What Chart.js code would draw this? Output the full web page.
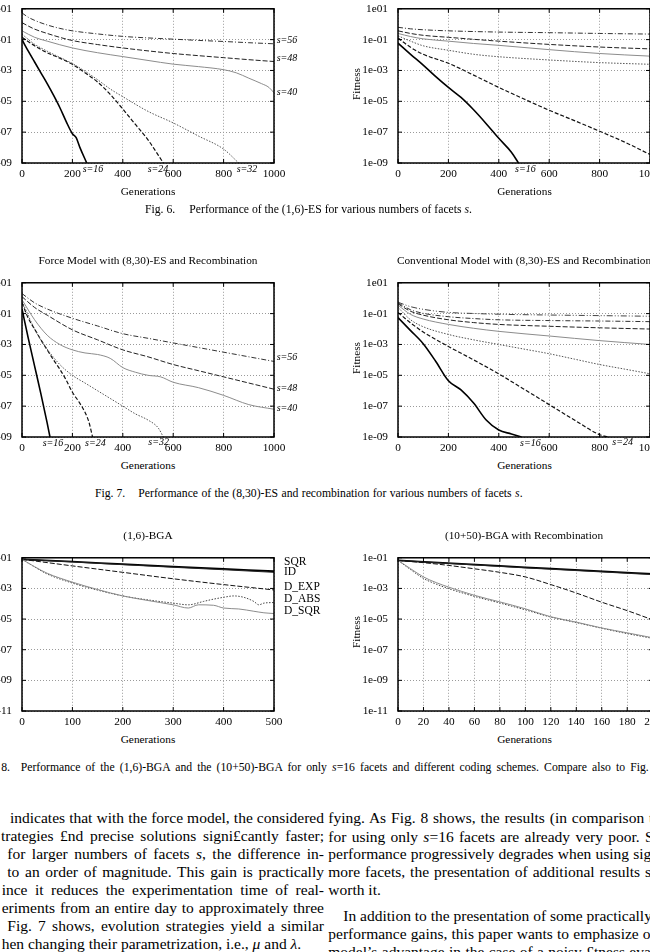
<!DOCTYPE html>
<html>
<head>
<meta charset="utf-8">
<script src="https://cdn.jsdelivr.net/npm/chart.js@4.4.0/dist/chart.umd.min.js"></script>
<style>
  html, body { margin: 0; padding: 0; background: #fff; }
  #page {
    position: relative; width: 650px; height: 952px; overflow: hidden;
    font-family: 'Liberation Serif', 'Times New Roman', serif; color: #000;
  }
  #page canvas { position: absolute; display: block; }
  .c  { position: absolute; white-space: nowrap; font-size: 11.3px; line-height: 1; transform: translate(-50%, -50%); }
  .l  { position: absolute; white-space: nowrap; font-size: 11.3px; line-height: 1; transform: translateY(-50%); }
  .r  { position: absolute; white-space: nowrap; font-size: 11.3px; line-height: 1; transform: translate(-100%, -50%); }
  .cap { font-size: 11.7px; }
  .lab { font-size: 10px; font-style: italic; }
  .leg { font-size: 11.5px; }
  .rot { transform: translate(-50%, -50%) rotate(-90deg); }
  .ln {
    position: absolute; white-space: nowrap; font-size: 15.5px; line-height: 18px; height: 18px;
    text-align: justify; text-align-last: justify;
  }
  .ln.last { text-align: left; text-align-last: left; }
</style>
</head>
<body>
<div id="page">
  <canvas id="f6a"></canvas>
  <canvas id="f6b"></canvas>
  <canvas id="f7a"></canvas>
  <canvas id="f7b"></canvas>
  <canvas id="f8a"></canvas>
  <canvas id="f8b"></canvas>

  <!-- Fig. 6 -->
  <div class="l lab" style="left:276.7px;top:40px">s=56</div>
  <div class="l lab" style="left:276.7px;top:58px">s=48</div>
  <div class="l lab" style="left:276.7px;top:92px">s=40</div>
  <div class="l lab" style="left:82.7px;top:169px">s=16</div>
  <div class="l lab" style="left:147.7px;top:169px">s=24</div>
  <div class="l lab" style="left:236.7px;top:169px">s=32</div>
  <div class="l lab" style="left:515px;top:169px">s=16</div>
  <div class="c" style="left:148px;top:192px">Generations</div>
  <div class="c" style="left:524.5px;top:192px">Generations</div>
  <div class="c rot" style="left:357px;top:83.5px">Fitness</div>
  <div class="l cap" style="left:145px;top:210px">Fig. 6.</div>
  <div class="l cap" style="left:189.3px;top:210px">Performance of the (1,6)-ES for various numbers of facets <i>s</i>.</div>

  <!-- Fig. 7 -->
  <div class="c" style="left:148px;top:261px">Force Model with (8,30)-ES and Recombination</div>
  <div class="c" style="left:524px;top:261px">Conventional Model with (8,30)-ES and Recombination</div>
  <div class="l lab" style="left:276.7px;top:357px">s=56</div>
  <div class="l lab" style="left:276.7px;top:388.3px">s=48</div>
  <div class="l lab" style="left:276.7px;top:408.3px">s=40</div>
  <div class="l lab" style="left:42.7px;top:443.3px">s=16</div>
  <div class="l lab" style="left:85px;top:443.3px">s=24</div>
  <div class="l lab" style="left:148.3px;top:441.7px">s=32</div>
  <div class="l lab" style="left:520px;top:443.3px">s=16</div>
  <div class="l lab" style="left:612.3px;top:442.3px">s=24</div>
  <div class="c" style="left:148px;top:466px">Generations</div>
  <div class="c" style="left:524.5px;top:466px">Generations</div>
  <div class="c rot" style="left:357px;top:357.5px">Fitness</div>
  <div class="l cap" style="left:95px;top:494px">Fig. 7.</div>
  <div class="l cap" style="left:138.3px;top:494px;word-spacing:0.5px">Performance of the (8,30)-ES and recombination for various numbers of facets <i>s</i>.</div>

  <!-- Fig. 8 -->
  <div class="c" style="left:148px;top:536px">(1,6)-BGA</div>
  <div class="c" style="left:524px;top:536px">(10+50)-BGA with Recombination</div>
  <div class="l leg" style="left:284px;top:562px">SQR</div>
  <div class="l leg" style="left:284px;top:571.7px">ID</div>
  <div class="l leg" style="left:284px;top:587.3px">D_EXP</div>
  <div class="l leg" style="left:284px;top:599.3px">D_ABS</div>
  <div class="l leg" style="left:284px;top:610.7px">D_SQR</div>
  <div class="c" style="left:148px;top:740px">Generations</div>
  <div class="c" style="left:524.5px;top:740px">Generations</div>
  <div class="c rot" style="left:357px;top:632px">Fitness</div>
  <div class="r cap" style="left:10px;top:768px">Fig. 8.</div>
  <div class="l cap" style="left:20.7px;top:768px;word-spacing:2.2px">Performance of the (1,6)-BGA and the (10+50)-BGA for only <i>s</i>=16 facets and different coding schemes. Compare also to Fig. 4.</div>

  <!-- body text, left column -->
  <div class="ln" style="left:10px;width:314px;top:809px">indicates that with the force model, the considered</div>
  <div class="ln" style="left:1px;width:323px;top:827px">trategies £nd precise solutions signi£cantly faster;</div>
  <div class="ln" style="left:7.3px;width:316.7px;top:845px">for larger numbers of facets <i>s</i>, the difference in-</div>
  <div class="ln" style="left:7.3px;width:316.7px;top:863px">to an order of magnitude. This gain is practically</div>
  <div class="ln" style="left:1.7px;width:322.3px;top:881px">ince it reduces the experimentation time of real-</div>
  <div class="ln" style="left:1.7px;width:322.3px;top:899px">eriments from an entire day to approximately three</div>
  <div class="ln" style="left:7.3px;width:316.7px;top:917px">Fig. 7 shows, evolution strategies yield a similar</div>
  <div class="ln last" style="left:1.7px;top:935px">hen changing their parametrization, i.e., <i>μ</i> and <i>λ</i>.</div>

  <!-- body text, right column -->
  <div class="ln last" style="left:328.3px;top:809.3px;word-spacing:1px">fying. As Fig. 8 shows, the results (in comparison to</div>
  <div class="ln last" style="left:328.3px;top:827.7px;word-spacing:1.4px">for using only <i>s</i>=16 facets are already very poor. Since</div>
  <div class="ln last" style="left:328.3px;top:845.3px;word-spacing:0.3px">performance progressively degrades when using significantly</div>
  <div class="ln last" style="left:328.3px;top:863.3px;word-spacing:1.1px">more facets, the presentation of additional results seems not</div>
  <div class="ln last" style="left:328.3px;top:881.3px">worth it.</div>
  <div class="ln last" style="left:343.3px;top:907px">In addition to the presentation of some practically</div>
  <div class="ln last" style="left:328.3px;top:924.7px;word-spacing:0.3px">performance gains, this paper wants to emphasize on the</div>
  <div class="ln last" style="left:328.3px;top:942.5px;word-spacing:0.5px">model’s advantage in the case of a noisy £tness evaluation</div>
</div>

<script>
/* ---------- axes ---------- */
// y ticks are decades (log10 of fitness)
const Y_EXP_ES   = [1, -1, -3, -5, -7, -9];
const Y_EXP_BGA  = [-1, -3, -5, -7, -9, -11];
const X_TICKS_ES   = [0, 200, 400, 600, 800, 1000];
const X_TICKS_BGA1 = [0, 100, 200, 300, 400, 500];
const X_TICKS_BGA2 = [0, 20, 40, 60, 80, 100, 120, 140, 160, 180, 200];

/* ---------- data: generation -> log10(fitness) ---------- */
// Fig. 6 left: force model, (1,6)-ES
const f6a_s56_x = [0, 25, 50, 100, 150, 200, 300, 400, 500, 600, 700, 800, 900, 1000];
const f6a_s56_e = [0.73, 0.45, 0.25, -0.05, -0.27, -0.43, -0.63, -0.79, -0.89, -0.97, -1.05, -1.12, -1.2, -1.27];
const f6a_s48_x = [0, 25, 50, 100, 150, 200, 300, 400, 500, 600, 700, 800, 900, 1000];
const f6a_s48_e = [0.1, -0.12, -0.32, -0.6, -0.85, -1.06, -1.32, -1.54, -1.73, -1.9, -2.04, -2.17, -2.3, -2.42];
const f6a_s40_x = [0, 50, 100, 200, 300, 400, 500, 600, 700, 800, 850, 900, 950, 980, 1000];
const f6a_s40_e = [-0.43, -0.85, -1.1, -1.54, -1.85, -2.1, -2.35, -2.59, -2.75, -2.95, -3.15, -3.5, -3.85, -4.1, -4.45];
const f6a_s32_x = [0, 50, 100, 150, 200, 250, 300, 350, 400, 500, 600, 700, 800, 860];
const f6a_s32_e = [-0.65, -1.3, -1.75, -2.15, -2.55, -3.05, -3.6, -4.2, -4.7, -5.65, -6.4, -7.25, -8.1, -9];
const f6a_s24_x = [0, 50, 100, 150, 200, 250, 300, 350, 400, 450, 500, 561];
const f6a_s24_e = [-0.85, -1.4, -1.85, -2.2, -2.6, -3.15, -3.75, -4.55, -5.5, -6.5, -7.5, -9];
const f6a_s16_x = [0, 25, 50, 75, 100, 125, 150, 175, 200, 215, 230, 257];
const f6a_s16_e = [-1.0, -1.75, -2.45, -3.15, -3.85, -4.6, -5.4, -6.3, -7.1, -7.35, -8.0, -9.0];

// Fig. 6 right: conventional model, (1,6)-ES
const f6b_s56_x = [0, 50, 100, 200, 400, 600, 800, 1000];
const f6b_s56_e = [-0.2, -0.3, -0.36, -0.43, -0.51, -0.55, -0.6, -0.64];
const f6b_s48_x = [0, 50, 100, 200, 300, 400, 600, 800, 1000];
const f6b_s48_e = [-0.43, -0.6, -0.72, -0.85, -0.98, -1.1, -1.31, -1.48, -1.6];
const f6b_s40_x = [0, 50, 100, 200, 300, 400, 600, 800, 1000];
const f6b_s40_e = [-0.6, -0.8, -0.95, -1.1, -1.25, -1.37, -1.65, -1.9, -2.07];
const f6b_s32_x = [0, 50, 100, 200, 300, 400, 600, 800, 1000];
const f6b_s32_e = [-0.75, -1.1, -1.4, -1.69, -1.95, -2.11, -2.32, -2.49, -2.6];
const f6b_s24_x = [0, 50, 100, 200, 300, 400, 500, 600, 700, 800, 900, 1000];
const f6b_s24_e = [-0.9, -1.5, -1.95, -2.53, -3.3, -4.1, -4.85, -5.58, -6.25, -6.94, -7.65, -8.45];
const f6b_s16_x = [0, 50, 100, 150, 200, 250, 300, 350, 400, 450, 478];
const f6b_s16_e = [-1.23, -1.95, -2.65, -3.4, -4.1, -4.75, -5.55, -6.45, -7.4, -8.3, -9];

// Fig. 7 left: force model, (8,30)-ES with recombination
const f7a_s56_x = [0, 50, 100, 200, 300, 400, 500, 600, 700, 800, 900, 1000];
const f7a_s56_e = [0.3, -0.3, -0.7, -1.3, -1.8, -2.3, -2.6, -2.9, -3.2, -3.5, -3.8, -4.1];
const f7a_s48_x = [0, 50, 100, 200, 300, 400, 500, 600, 700, 800, 900, 1000];
const f7a_s48_e = [0.1, -0.6, -1.1, -2.05, -2.7, -3.35, -3.8, -4.3, -4.7, -5.1, -5.5, -5.9];
const f7a_s40_x = [0, 50, 100, 150, 200, 250, 300, 350, 400, 450, 500, 550, 600, 700, 800, 900, 1000];
const f7a_s40_e = [-0.1, -1.4, -2.4, -3.0, -3.35, -3.55, -3.65, -3.9, -4.5, -4.8, -5.0, -5.1, -5.45, -5.8, -6.3, -6.9, -7.2];
const f7a_s32_x = [0, 50, 100, 150, 200, 250, 300, 350, 400, 450, 500, 540, 561];
const f7a_s32_e = [-0.2, -2.0, -3.3, -4.3, -5.0, -5.5, -6.0, -6.5, -7.0, -7.5, -7.9, -8.4, -9.0];
const f7a_s24_x = [0, 25, 50, 75, 100, 125, 150, 175, 200, 225, 250, 265, 280];
const f7a_s24_e = [-0.3, -1.3, -2.0, -2.7, -3.35, -4.0, -4.6, -5.3, -6.1, -6.7, -7.4, -8.0, -9.0];
const f7a_s16_x = [0, 25, 50, 75, 100, 111];
const f7a_s16_e = [-0.7, -2.6, -4.4, -6.2, -8.1, -9.0];

// Fig. 7 right: conventional model, (8,30)-ES with recombination
const f7b_s64_x = [0, 50, 100, 200, 300, 400, 600, 800, 1000];
const f7b_s64_e = [-0.26, -0.55, -0.72, -0.92, -0.99, -1.04, -1.09, -1.13, -1.17];
const f7b_s56_x = [0, 50, 100, 200, 300, 400, 600, 800, 1000];
const f7b_s56_e = [-0.3, -0.75, -0.98, -1.2, -1.32, -1.4, -1.45, -1.48, -1.52];
const f7b_s48_x = [0, 50, 100, 200, 300, 400, 600, 800, 1000];
const f7b_s48_e = [-0.36, -0.85, -1.1, -1.4, -1.58, -1.7, -1.82, -1.92, -2.0];
const f7b_s40_x = [0, 50, 100, 200, 300, 400, 600, 800, 1000];
const f7b_s40_e = [-0.45, -1.05, -1.35, -1.7, -1.95, -2.15, -2.45, -2.75, -3.0];
const f7b_s32_x = [0, 50, 100, 200, 300, 400, 500, 600, 700, 800, 900, 1000];
const f7b_s32_e = [-0.6, -1.4, -1.85, -2.35, -2.7, -3.0, -3.3, -3.6, -3.95, -4.3, -4.6, -4.9];
const f7b_s24_x = [0, 50, 100, 200, 300, 400, 500, 600, 700, 800, 835];
const f7b_s24_e = [-0.93, -1.6, -2.19, -3.13, -4.0, -4.91, -5.9, -6.9, -7.9, -8.85, -9.0];
const f7b_s16_x = [0, 50, 100, 150, 200, 250, 300, 350, 400, 450, 490];
const f7b_s16_e = [-1.25, -2.1, -2.95, -4.1, -5.35, -5.95, -6.8, -7.9, -8.55, -8.8, -9.0];

// Fig. 8 left: (1,6)-BGA, s=16
const f8a_sqr_x  = [0, 100, 200, 300, 400, 500];
const f8a_sqr_e  = [-1.1, -1.25, -1.42, -1.58, -1.73, -1.88];
const f8a_id_x   = [0, 100, 200, 300, 400, 500];
const f8a_id_e   = [-1.1, -1.27, -1.45, -1.62, -1.78, -1.95];
const f8a_dexp_x = [0, 100, 200, 300, 400, 500];
const f8a_dexp_e = [-1.1, -1.53, -1.95, -2.37, -2.75, -3.1];
const f8a_dabs_x = [0, 25, 50, 100, 150, 200, 250, 300, 330, 360, 380, 400, 420, 440, 460, 470, 480, 500];
const f8a_dabs_e = [-1.1, -1.6, -2.06, -2.65, -3.11, -3.49, -3.75, -3.96, -4.07, -3.85, -3.7, -3.58, -3.49, -3.58, -3.85, -4.07, -3.96, -3.92];
const f8a_dsqr_x = [0, 25, 50, 100, 150, 200, 250, 300, 330, 350, 380, 400, 430, 460, 480, 500];
const f8a_dsqr_e = [-1.1, -1.58, -2.01, -2.59, -3.07, -3.49, -3.79, -4.07, -4.28, -4.07, -4.1, -4.28, -4.34, -4.49, -4.59, -4.64];

// Fig. 8 right: (10+50)-BGA with recombination, s=16
const f8b_sqr_x  = [0, 50, 100, 150, 200];
const f8b_sqr_e  = [-1.17, -1.4, -1.62, -1.84, -2.05];
const f8b_id_x   = [0, 50, 100, 150, 200];
const f8b_id_e   = [-1.17, -1.42, -1.66, -1.88, -2.1];
const f8b_dexp_x = [0, 20, 40, 60, 80, 100, 120, 140, 160, 180, 200];
const f8b_dexp_e = [-1.17, -1.32, -1.5, -1.72, -1.95, -2.25, -2.75, -3.3, -3.9, -4.45, -5.05];
const f8b_dsqr_x = [0, 10, 20, 30, 40, 60, 80, 100, 120, 140, 160, 180, 200];
const f8b_dsqr_e = [-1.17, -1.72, -2.25, -2.62, -2.92, -3.45, -3.88, -4.33, -4.85, -5.2, -5.58, -5.9, -6.22];
const f8b_dabs_x = [0, 10, 20, 30, 40, 60, 80, 100, 120, 140, 160, 180, 200];
const f8b_dabs_e = [-1.17, -1.78, -2.35, -2.72, -3.02, -3.52, -3.95, -4.4, -4.87, -5.23, -5.6, -5.95, -6.26];

/* ---------- line styles (gnuplot-ish, grayscale) ---------- */
const STYLE = {
  s16:  { color: '#000',    width: 1.6, dash: [] },
  s24:  { color: '#111',    width: 1.2, dash: [4, 2] },
  s32:  { color: '#555',    width: 1.0, dash: [1.5, 1.5] },
  s40:  { color: '#8c8c8c', width: 1.0, dash: [] },
  s48:  { color: '#222',    width: 1.0, dash: [5, 2] },
  s56:  { color: '#333',    width: 1.0, dash: [5, 2, 1, 2] },
  s64:  { color: '#444',    width: 1.0, dash: [6, 2, 1, 2, 1, 2] },
  sqr:  { color: '#000',    width: 1.8, dash: [] },
  id:   { color: '#222',    width: 1.0, dash: [] },
  dexp: { color: '#111',    width: 1.0, dash: [5, 2] },
  dabs: { color: '#444',    width: 1.0, dash: [1.5, 1.5] },
  dsqr: { color: '#8c8c8c', width: 1.0, dash: [] }
};

const FONT = "'Liberation Serif', 'Times New Roman', serif";

function fmtExp(v) {
  const e = Math.round(Math.log10(v));
  return '1e' + (e < 0 ? '-' : '') + String(Math.abs(e)).padStart(2, '0');
}

// plot frame + inward tick marks on all four sides
const framePlugin = {
  id: 'frame',
  afterDatasetsDraw(chart) {
    const { ctx, chartArea: a, scales: { x, y } } = chart;
    ctx.save();
    ctx.strokeStyle = '#000';
    ctx.lineWidth = 1;
    ctx.beginPath();
    x.ticks.forEach(t => {
      const px = x.getPixelForValue(t.value);
      ctx.moveTo(px, a.bottom); ctx.lineTo(px, a.bottom - 4);
      ctx.moveTo(px, a.top);    ctx.lineTo(px, a.top + 4);
    });
    y.ticks.forEach(t => {
      const py = y.getPixelForValue(t.value);
      ctx.moveTo(a.left, py);  ctx.lineTo(a.left + 4, py);
      ctx.moveTo(a.right, py); ctx.lineTo(a.right - 4, py);
    });
    ctx.stroke();
    ctx.lineWidth = 1.5;
    ctx.strokeRect(a.left, a.top, a.right - a.left, a.bottom - a.top);
    ctx.restore();
  }
};

function makeChart(id, box, xTicks, yExp, series) {
  const YW = 62, PT = 12, PR = 24, XH = 22;
  const cv = document.getElementById(id);
  cv.width  = Math.round(box.r - box.l + YW + PR);
  cv.height = Math.round(box.b - box.t + PT + XH);
  cv.style.left = (box.l - YW) + 'px';
  cv.style.top  = (box.t - PT) + 'px';
  const padR = cv.width - YW - (box.r - box.l);

  new Chart(cv, {
    type: 'line',
    data: {
      datasets: series.map(s => ({
        data: s.x.map((g, i) => ({ x: g, y: Math.pow(10, s.e[i]) })),
        borderColor: STYLE[s.style].color,
        borderWidth: STYLE[s.style].width,
        borderDash: STYLE[s.style].dash,
        pointRadius: 0,
        fill: false,
        cubicInterpolationMode: 'monotone'
      }))
    },
    options: {
      responsive: false,
      animation: false,
      events: [],
      layout: { padding: { top: PT, right: padR, left: 0, bottom: 0 } },
      plugins: { legend: { display: false }, tooltip: { enabled: false } },
      scales: {
        x: {
          type: 'linear',
          min: xTicks[0],
          max: xTicks[xTicks.length - 1],
          afterBuildTicks: sc => { sc.ticks = xTicks.map(v => ({ value: v })); },
          afterFit: sc => { sc.height = XH; },
          grid: { color: '#9a9a9a', lineWidth: 1, drawTicks: false },
          border: { display: false, dash: [1, 2] },
          ticks: {
            font: { family: FONT, size: 11.3 }, color: '#000', padding: 4,
            maxRotation: 0, autoSkip: false, callback: v => String(v)
          }
        },
        y: {
          type: 'logarithmic',
          min: Math.pow(10, yExp[yExp.length - 1]),
          max: Math.pow(10, yExp[0]),
          afterBuildTicks: sc => { sc.ticks = yExp.map(e => ({ value: Math.pow(10, e) })); },
          afterFit: sc => { sc.width = YW; },
          grid: { color: '#9a9a9a', lineWidth: 1, drawTicks: false },
          border: { display: false, dash: [1, 2] },
          ticks: {
            font: { family: FONT, size: 11.3 }, color: '#000', padding: 10,
            autoSkip: false, callback: v => fmtExp(v)
          }
        }
      }
    },
    plugins: [framePlugin]
  });
}

const BOX_6A = { l: 22, r: 274, t: 4, b: 163 };
const BOX_6B = { l: 398.3, r: 650.3, t: 4, b: 163 };
const BOX_7A = { l: 22, r: 274, t: 278, b: 437 };
const BOX_7B = { l: 398.3, r: 650.3, t: 278, b: 437 };
const BOX_8A = { l: 22, r: 274, t: 553, b: 711 };
const BOX_8B = { l: 398.3, r: 653, t: 553, b: 711 };

makeChart('f6a', BOX_6A, X_TICKS_ES, Y_EXP_ES, [
  { x: f6a_s56_x, e: f6a_s56_e, style: 's56' },
  { x: f6a_s48_x, e: f6a_s48_e, style: 's48' },
  { x: f6a_s40_x, e: f6a_s40_e, style: 's40' },
  { x: f6a_s32_x, e: f6a_s32_e, style: 's32' },
  { x: f6a_s24_x, e: f6a_s24_e, style: 's24' },
  { x: f6a_s16_x, e: f6a_s16_e, style: 's16' }
]);
makeChart('f6b', BOX_6B, X_TICKS_ES, Y_EXP_ES, [
  { x: f6b_s56_x, e: f6b_s56_e, style: 's56' },
  { x: f6b_s48_x, e: f6b_s48_e, style: 's48' },
  { x: f6b_s40_x, e: f6b_s40_e, style: 's40' },
  { x: f6b_s32_x, e: f6b_s32_e, style: 's32' },
  { x: f6b_s24_x, e: f6b_s24_e, style: 's24' },
  { x: f6b_s16_x, e: f6b_s16_e, style: 's16' }
]);
makeChart('f7a', BOX_7A, X_TICKS_ES, Y_EXP_ES, [
  { x: f7a_s56_x, e: f7a_s56_e, style: 's56' },
  { x: f7a_s48_x, e: f7a_s48_e, style: 's48' },
  { x: f7a_s40_x, e: f7a_s40_e, style: 's40' },
  { x: f7a_s32_x, e: f7a_s32_e, style: 's32' },
  { x: f7a_s24_x, e: f7a_s24_e, style: 's24' },
  { x: f7a_s16_x, e: f7a_s16_e, style: 's16' }
]);
makeChart('f7b', BOX_7B, X_TICKS_ES, Y_EXP_ES, [
  { x: f7b_s64_x, e: f7b_s64_e, style: 's64' },
  { x: f7b_s56_x, e: f7b_s56_e, style: 's56' },
  { x: f7b_s48_x, e: f7b_s48_e, style: 's48' },
  { x: f7b_s40_x, e: f7b_s40_e, style: 's40' },
  { x: f7b_s32_x, e: f7b_s32_e, style: 's32' },
  { x: f7b_s24_x, e: f7b_s24_e, style: 's24' },
  { x: f7b_s16_x, e: f7b_s16_e, style: 's16' }
]);
makeChart('f8a', BOX_8A, X_TICKS_BGA1, Y_EXP_BGA, [
  { x: f8a_dsqr_x, e: f8a_dsqr_e, style: 'dsqr' },
  { x: f8a_dabs_x, e: f8a_dabs_e, style: 'dabs' },
  { x: f8a_dexp_x, e: f8a_dexp_e, style: 'dexp' },
  { x: f8a_id_x,   e: f8a_id_e,   style: 'id' },
  { x: f8a_sqr_x,  e: f8a_sqr_e,  style: 'sqr' }
]);
makeChart('f8b', BOX_8B, X_TICKS_BGA2, Y_EXP_BGA, [
  { x: f8b_dsqr_x, e: f8b_dsqr_e, style: 'dsqr' },
  { x: f8b_dabs_x, e: f8b_dabs_e, style: 'dabs' },
  { x: f8b_dexp_x, e: f8b_dexp_e, style: 'dexp' },
  { x: f8b_id_x,   e: f8b_id_e,   style: 'id' },
  { x: f8b_sqr_x,  e: f8b_sqr_e,  style: 'sqr' }
]);
</script>
</body>
</html>
